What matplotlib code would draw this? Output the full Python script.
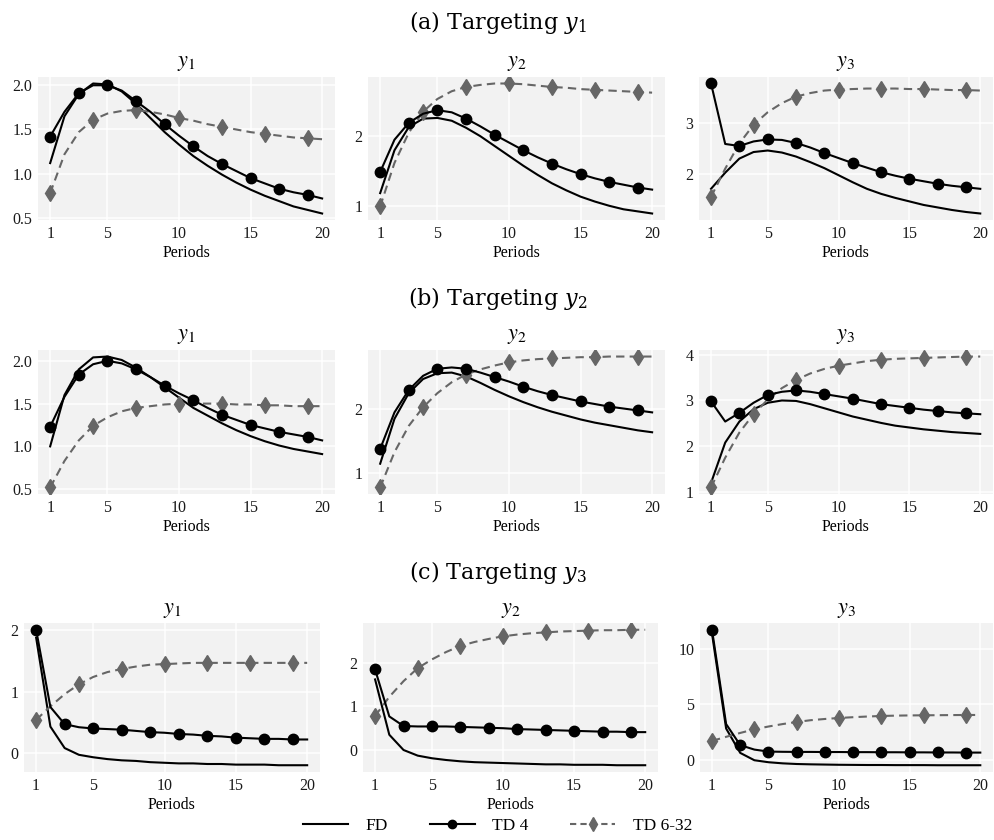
import matplotlib.pyplot as plt
from matplotlib.lines import Line2D
from matplotlib.ticker import FixedLocator, FormatStrFormatter

periods = list(range(1, 21))

# (a) targeting y1
fd_a1 = [1.12, 1.65, 1.90, 2.02, 2.01, 1.93, 1.79, 1.63, 1.47, 1.33, 1.20, 1.09, 0.99, 0.90, 0.82, 0.75, 0.69, 0.63, 0.59, 0.55]
td4_a1 = [1.42, 1.70, 1.91, 2.00, 2.00, 1.94, 1.82, 1.70, 1.56, 1.43, 1.31, 1.20, 1.11, 1.03, 0.95, 0.89, 0.83, 0.79, 0.76, 0.72]
td632_a1 = [0.78, 1.22, 1.47, 1.61, 1.68, 1.71, 1.72, 1.70, 1.67, 1.63, 1.60, 1.56, 1.53, 1.50, 1.47, 1.45, 1.43, 1.41, 1.40, 1.39]

fd_a2 = [1.19, 1.80, 2.13, 2.25, 2.26, 2.22, 2.12, 2.00, 1.86, 1.72, 1.58, 1.45, 1.33, 1.23, 1.14, 1.07, 1.01, 0.96, 0.93, 0.90]
td4_a2 = [1.49, 1.95, 2.19, 2.32, 2.37, 2.34, 2.25, 2.14, 2.02, 1.91, 1.80, 1.70, 1.61, 1.53, 1.46, 1.40, 1.35, 1.31, 1.27, 1.24]
td632_a2 = [1.00, 1.62, 2.05, 2.35, 2.53, 2.64, 2.70, 2.73, 2.75, 2.75, 2.74, 2.72, 2.70, 2.69, 2.67, 2.66, 2.65, 2.64, 2.63, 2.62]

fd_a3 = [1.70, 2.02, 2.30, 2.43, 2.46, 2.42, 2.34, 2.23, 2.11, 1.97, 1.83, 1.70, 1.60, 1.52, 1.45, 1.38, 1.33, 1.28, 1.24, 1.21]
td4_a3 = [3.79, 2.59, 2.55, 2.64, 2.68, 2.67, 2.61, 2.52, 2.41, 2.31, 2.21, 2.12, 2.03, 1.96, 1.90, 1.85, 1.80, 1.76, 1.73, 1.70]
td632_a3 = [1.54, 2.10, 2.60, 2.97, 3.22, 3.40, 3.53, 3.60, 3.65, 3.67, 3.68, 3.69, 3.69, 3.69, 3.68, 3.68, 3.67, 3.66, 3.66, 3.65]

# (b) targeting y2
fd_b1 = [1.00, 1.60, 1.90, 2.04, 2.05, 2.01, 1.92, 1.81, 1.69, 1.57, 1.45, 1.36, 1.27, 1.19, 1.12, 1.06, 1.01, 0.97, 0.94, 0.91]
td4_b1 = [1.23, 1.58, 1.84, 1.96, 2.00, 1.97, 1.90, 1.81, 1.71, 1.62, 1.54, 1.45, 1.37, 1.31, 1.25, 1.21, 1.17, 1.14, 1.11, 1.07]
td632_b1 = [0.52, 0.83, 1.07, 1.24, 1.34, 1.41, 1.45, 1.47, 1.49, 1.50, 1.50, 1.50, 1.50, 1.49, 1.49, 1.48, 1.48, 1.47, 1.47, 1.47]

fd_b2 = [1.15, 1.85, 2.25, 2.47, 2.56, 2.57, 2.51, 2.41, 2.30, 2.20, 2.11, 2.03, 1.96, 1.90, 1.84, 1.79, 1.75, 1.71, 1.67, 1.64]
td4_b2 = [1.38, 1.95, 2.30, 2.52, 2.63, 2.65, 2.63, 2.57, 2.50, 2.43, 2.35, 2.28, 2.22, 2.17, 2.12, 2.08, 2.04, 2.01, 1.98, 1.95]
td632_b2 = [0.78, 1.33, 1.74, 2.03, 2.25, 2.42, 2.54, 2.62, 2.68, 2.73, 2.76, 2.78, 2.79, 2.80, 2.81, 2.81, 2.82, 2.82, 2.82, 2.82]

fd_b3 = [1.20, 2.08, 2.54, 2.81, 2.95, 3.00, 2.99, 2.92, 2.83, 2.74, 2.65, 2.58, 2.51, 2.45, 2.41, 2.37, 2.34, 2.31, 2.29, 2.27]
td4_b3 = [2.98, 2.54, 2.73, 2.95, 3.12, 3.19, 3.22, 3.19, 3.14, 3.09, 3.04, 2.98, 2.92, 2.88, 2.84, 2.80, 2.77, 2.74, 2.72, 2.70]
td632_b3 = [1.10, 1.75, 2.30, 2.70, 3.02, 3.27, 3.45, 3.59, 3.69, 3.76, 3.81, 3.86, 3.89, 3.91, 3.92, 3.93, 3.94, 3.95, 3.96, 3.96]

# (c) targeting y3
fd_c1 = [1.88, 0.43, 0.08, -0.03, -0.07, -0.10, -0.12, -0.13, -0.15, -0.16, -0.17, -0.17, -0.18, -0.18, -0.19, -0.19, -0.19, -0.20, -0.20, -0.20]
td4_c1 = [2.01, 0.75, 0.47, 0.42, 0.40, 0.39, 0.38, 0.36, 0.34, 0.33, 0.31, 0.30, 0.28, 0.27, 0.25, 0.24, 0.23, 0.23, 0.22, 0.22]
td632_c1 = [0.54, 0.76, 0.96, 1.12, 1.24, 1.32, 1.37, 1.41, 1.44, 1.45, 1.46, 1.47, 1.47, 1.47, 1.47, 1.47, 1.47, 1.47, 1.47, 1.47]

fd_c2 = [1.62, 0.35, 0.00, -0.13, -0.19, -0.23, -0.26, -0.28, -0.29, -0.30, -0.31, -0.32, -0.33, -0.33, -0.34, -0.34, -0.34, -0.35, -0.35, -0.35]
td4_c2 = [1.85, 0.77, 0.55, 0.54, 0.54, 0.54, 0.53, 0.52, 0.51, 0.50, 0.48, 0.47, 0.46, 0.45, 0.44, 0.43, 0.42, 0.42, 0.41, 0.41]
td632_c2 = [0.78, 1.22, 1.58, 1.88, 2.08, 2.25, 2.39, 2.48, 2.55, 2.61, 2.65, 2.68, 2.70, 2.72, 2.73, 2.74, 2.75, 2.75, 2.76, 2.76]

fd_c3 = [11.35, 2.80, 0.60, -0.06, -0.24, -0.34, -0.40, -0.43, -0.45, -0.47, -0.48, -0.49, -0.49, -0.50, -0.50, -0.50, -0.51, -0.51, -0.51, -0.51]
td4_c3 = [11.70, 3.20, 1.30, 0.90, 0.72, 0.70, 0.69, 0.69, 0.68, 0.68, 0.67, 0.67, 0.66, 0.66, 0.65, 0.65, 0.64, 0.64, 0.63, 0.63]
td632_c3 = [1.68, 2.05, 2.40, 2.73, 2.98, 3.20, 3.39, 3.55, 3.66, 3.75, 3.82, 3.88, 3.93, 3.96, 3.98, 3.99, 4.00, 4.01, 4.02, 4.02]

row_titles = ["(a) Targeting $y_1$", "(b) Targeting $y_2$", "(c) Targeting $y_3$"]
panel_titles = ["$y_1$", "$y_2$", "$y_3$"]
x_ticks = [1, 5, 10, 15, 20]
y_ticks = [
    [[0.5, 1.0, 1.5, 2.0], [1, 2], [2, 3]],
    [[0.5, 1.0, 1.5, 2.0], [1, 2], [1, 2, 3, 4]],
    [[0, 1, 2], [0, 1, 2], [0, 5, 10]],
]
series = [
    [(fd_a1, td4_a1, td632_a1), (fd_a2, td4_a2, td632_a2), (fd_a3, td4_a3, td632_a3)],
    [(fd_b1, td4_b1, td632_b1), (fd_b2, td4_b2, td632_b2), (fd_b3, td4_b3, td632_b3)],
    [(fd_c1, td4_c1, td632_c1), (fd_c2, td4_c2, td632_c2), (fd_c3, td4_c3, td632_c3)],
]

W, H = 995, 840
fig = plt.figure(figsize=(W / 100, H / 100), dpi=100)

def fx(px):
    return px / W

def fy(py):
    return 1 - py / H

# pixel boxes (left, right) per row, and (top, bottom)
cols = [
    [(38, 335), (368, 665), (699, 993)],
    [(38, 335), (368, 665), (699, 993)],
    [(24, 320), (363, 658), (700, 993)],
]
rows = [(77, 220), (350, 494), (623, 772)]
title_y = [22, 298, 572]
sub_y = [63, 336, 610]
xlab_y = [253, 527, 805]

tick_font = dict(family="Liberation Serif", size=11.5)
gray = "#666666"

for i in range(3):
    top, bot = rows[i]
    fig.text(0.5, fy(title_y[i]), row_titles[i], ha="center", va="center",
             family="DejaVu Serif", size=16, math_fontfamily="dejavuserif")
    for j in range(3):
        l, r = cols[i][j]
        ax = fig.add_axes([fx(l), fy(bot), fx(r - l), (bot - top) / H])
        fd, td4, td632 = series[i][j]
        ax.set_facecolor("#F2F2F2")
        ax.plot(periods, fd, color="black", lw=1.5, zorder=3)
        ax.plot(periods, td4, color="black", lw=1.5, marker="o", ms=7.5,
                markevery=slice(0, None, 2), zorder=4)
        ax.plot(periods, td632, color=gray, lw=1.5, ls=(0, (4, 2.5)),
                marker="d", ms=8, markevery=slice(0, None, 3), zorder=3)
        ax.set_xlim(0.15, 20.9)
        ax.margins(y=0.05)
        ax.xaxis.set_major_locator(FixedLocator(x_ticks))
        ax.yaxis.set_major_locator(FixedLocator(y_ticks[i][j]))
        if i < 2 and j == 0:
            ax.yaxis.set_major_formatter(FormatStrFormatter("%.1f"))
        ax.grid(True, color="white", lw=1.1)
        ax.set_axisbelow(True)
        for s in ax.spines.values():
            s.set_visible(False)
        ax.tick_params(length=0, pad=4, colors="#1a1a1a")
        for lab in ax.get_xticklabels() + ax.get_yticklabels():
            lab.set_fontfamily(tick_font["family"])
            lab.set_fontsize(tick_font["size"])
        cx = (l + r) / 2
        fig.text(fx(cx), fy(sub_y[i]), panel_titles[j], ha="center", va="center",
                 size=16, math_fontfamily="stix")
        fig.text(fx(cx), fy(xlab_y[i]), "Periods", ha="center", va="center",
                 family="Liberation Serif", size=11.5)

handles = [
    Line2D([], [], color="black", lw=1.5),
    Line2D([], [], color="black", lw=1.5, marker="o", ms=6),
    Line2D([], [], color=gray, lw=1.5, ls=(0, (3, 2)), marker="d", ms=7),
]
fig.legend(handles, ["FD", "TD 4", "TD 6-32"], loc="center",
           bbox_to_anchor=(0.5, fy(826)), ncol=3, frameon=False,
           prop=dict(family="Liberation Serif", size=12.5),
           handlelength=2.6, handletextpad=1.0, columnspacing=2.4)

fig.savefig("out.png", dpi=100)
